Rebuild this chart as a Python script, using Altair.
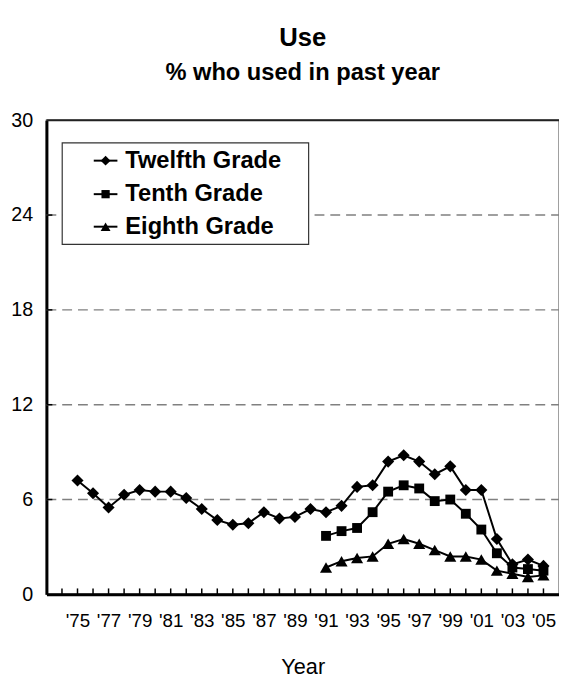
import altair as alt
import pandas as pd

# ---- data ----
years_12 = list(range(1975, 2006))
twelfth = [7.2, 6.4, 5.5, 6.3, 6.6, 6.5, 6.5, 6.1, 5.4, 4.7, 4.4, 4.5, 5.2, 4.8, 4.9,
           5.4, 5.2, 5.6, 6.8, 6.9, 8.4, 8.8, 8.4, 7.6, 8.1, 6.6, 6.6, 3.5, 1.9, 2.2, 1.8]
years_10_8 = list(range(1991, 2006))
tenth = [3.7, 4.0, 4.2, 5.2, 6.5, 6.9, 6.7, 5.9, 6.0, 5.1, 4.1, 2.6, 1.7, 1.6, 1.5]
eighth = [1.7, 2.1, 2.3, 2.4, 3.2, 3.5, 3.2, 2.8, 2.4, 2.4, 2.2, 1.5, 1.3, 1.1, 1.2]

series_names = ["Twelfth Grade", "Tenth Grade", "Eighth Grade"]
series_shapes = ["diamond", "square", "triangle-up"]
series_sizes = [150, 100, 150]
legend_sizes = [100, 70, 100]

x_label_years = list(range(1975, 2006, 2))
x_tick_years = list(range(1974, 2006))
y_values = [0, 6, 12, 18, 24, 30]
grid_values = [6, 12, 18, 24]

FONT = "Liberation Sans"

series_data = {
    "Twelfth Grade": (years_12, twelfth),
    "Tenth Grade": (years_10_8, tenth),
    "Eighth Grade": (years_10_8, eighth),
}

rows = []
for name in series_names:
    ys, vs = series_data[name]
    for y, v in zip(ys, vs):
        rows.append({"series": name, "year": y, "value": v})
df = pd.DataFrame(rows)

x_scale = alt.Scale(domain=[1973, 2006], nice=False, zero=False)
y_scale = alt.Scale(domain=[0, 30], nice=False, zero=True)

x_axis = alt.Axis(
    values=x_label_years,
    labelExpr="\"'\" + substring(toString(datum.value), 2)",
    tickSize=0, grid=False,
    domainColor="black", domainWidth=3,
    labelFont=FONT, labelFontSize=19, labelColor="black", labelPadding=18,
    labelFlush=False, labelOverlap=False,
    title="Year", titleFont=FONT, titleFontSize=22, titleFontWeight="normal",
    titleColor="black", titleBaseline="alphabetic", titleY=80,
)
y_axis = alt.Axis(
    values=y_values, tickSize=0, grid=False,
    domainColor="black", domainWidth=3,
    labelFont=FONT, labelFontSize=20, labelColor="black", labelPadding=14,
    labelOverlap=False, title=None,
)

X = lambda f: alt.X(f, scale=x_scale, axis=x_axis)
Y = lambda f: alt.Y(f, scale=y_scale, axis=y_axis)

base = alt.Chart(df)

grid = alt.Chart(pd.DataFrame({"g": grid_values})).mark_rule(
    color="#808080", strokeWidth=1.5, strokeDash=[10, 6]
).encode(
    y=Y("g:Q"),
    x=alt.value(0), x2=alt.value(520),
)

top_frame = alt.Chart(pd.DataFrame({"g": [30]})).mark_rule(
    color="#222222", strokeWidth=2
).encode(
    y=Y("g:Q"),
    x=alt.value(0), x2=alt.value(520),
)

lines = base.mark_line(color="black", strokeWidth=2).encode(
    x=X("year:Q"),
    y=Y("value:Q"),
    detail="series:N",
)

point_layers = []
for name, shp, sz in zip(series_names, series_shapes, series_sizes):
    point_layers.append(
        base.transform_filter(alt.datum.series == name).mark_point(
            shape=shp, size=sz, filled=True, color="black", opacity=1
        ).encode(
            x=X("year:Q"),
            y=Y("value:Q"),
        )
    )

x_ticks = alt.Chart(pd.DataFrame({"t": x_tick_years})).mark_rule(
    color="black", strokeWidth=1.5
).encode(
    x=X("t:Q"),
    y=alt.value(481), y2=alt.value(475),
)

y_ticks = alt.Chart(pd.DataFrame({"g": grid_values})).mark_rule(
    color="black", strokeWidth=1.5
).encode(
    y=Y("g:Q"),
    x=alt.value(0), x2=alt.value(6),
)

legend_box = alt.Chart(pd.DataFrame({"a": [0]})).mark_rect(
    fill="white", stroke="#333333", strokeWidth=1.2
).encode(
    x=alt.value(16), x2=alt.value(266), y=alt.value(23), y2=alt.value(126),
)

legend_layers = []
row_y = [41, 75, 108]
for name, shp, sz, ry in zip(series_names, series_shapes, legend_sizes, row_y):
    ldf = pd.DataFrame({"s": [name]})
    legend_layers.append(
        alt.Chart(ldf).mark_rule(color="black", strokeWidth=2).encode(
            x=alt.value(48), x2=alt.value(72), y=alt.value(ry)
        )
    )
    legend_layers.append(
        alt.Chart(ldf).mark_point(shape=shp, size=sz, filled=True, color="black", opacity=1).encode(
            x=alt.value(60), y=alt.value(ry)
        )
    )
    legend_layers.append(
        alt.Chart(ldf).mark_text(
            align="left", baseline="middle", font=FONT, fontSize=24,
            fontWeight="bold", color="black"
        ).encode(x=alt.value(80), y=alt.value(ry), text="s:N")
    )

chart = alt.layer(
    grid, top_frame, lines, *point_layers, x_ticks, y_ticks, legend_box, *legend_layers
).properties(
    width=520, height=481,
    padding={"left": 39, "top": 109, "right": 0, "bottom": 80},
    autosize=alt.AutoSizeParams(type="none"),
    title=alt.TitleParams(
        text="Use", subtitle="% who used in past year",
        anchor="middle", frame="group",
        font=FONT, fontSize=26, fontWeight="bold", color="black",
        subtitleFont=FONT, subtitleFontSize=24, subtitleFontWeight="bold",
        subtitleColor="black", subtitlePadding=10, offset=26,
    ),
).configure_view(
    stroke="#808080", strokeWidth=1.5
).configure_axisX(
    labelOverlap=False
)

chart.save("out.html", embed_options={"renderer": "svg", "actions": False})
